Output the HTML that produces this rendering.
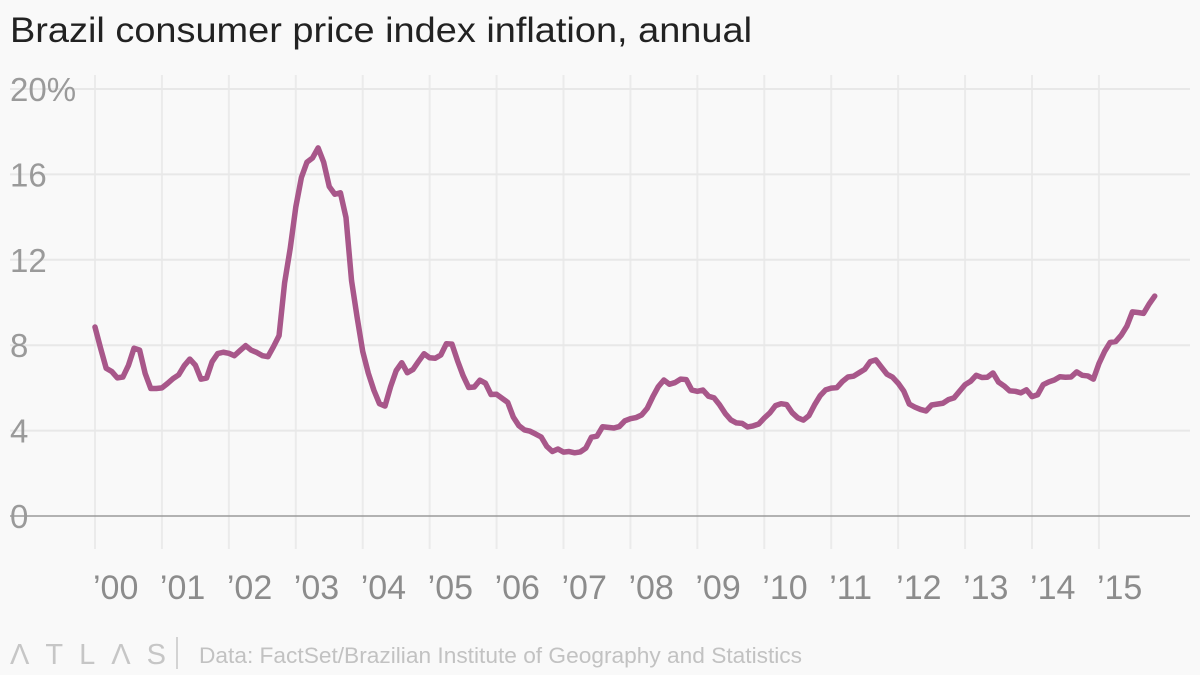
<!DOCTYPE html>
<html><head><meta charset="utf-8">
<style>
html,body{margin:0;padding:0;background:#f9f9f9;}
svg{display:block;font-family:"Liberation Sans",sans-serif;}
</style></head>
<body>
<svg id="chart" width="1200" height="675" viewBox="0 0 1200 675">
<rect width="1200" height="675" fill="#f9f9f9"/>
<text x="10" y="42" font-size="35" fill="#222" textLength="742" lengthAdjust="spacingAndGlyphs">Brazil consumer price index inflation, annual</text>
<g id="grid"></g>
<g id="yticks"></g>
<g id="xticks"></g>
<path id="line" fill="none" stroke="#a8578a" stroke-width="5.5" stroke-linejoin="round" stroke-linecap="round"/>
<g>
<text x="10" y="664" font-size="29" fill="#c6c6c6" letter-spacing="16">ΛTLΛS</text>
<line x1="177" y1="637" x2="177" y2="669" stroke="#c6c6c6" stroke-width="1.5"/>
<text x="199" y="663" font-size="22" fill="#c2c2c2" textLength="603" lengthAdjust="spacingAndGlyphs">Data: FactSet/Brazilian Institute of Geography and Statistics</text>
</g>
</svg>
<script>
const startYear = 2000;
const values = [
8.85,7.86,6.92,6.77,6.47,6.51,7.06,7.86,7.77,6.67,5.97,5.97,
6.00,6.21,6.44,6.61,7.04,7.35,7.06,6.41,6.46,7.23,7.61,7.67,
7.62,7.51,7.75,7.98,7.77,7.66,7.51,7.46,7.93,8.45,10.93,12.53,
14.47,15.85,16.57,16.77,17.24,16.57,15.43,15.07,15.14,13.98,11.02,9.30,
7.71,6.69,5.89,5.26,5.15,6.06,6.81,7.18,6.71,6.86,7.24,7.60,
7.41,7.39,7.54,8.07,8.05,7.27,6.57,6.02,6.04,6.36,6.22,5.69,
5.70,5.51,5.32,4.63,4.23,4.03,3.97,3.84,3.70,3.26,3.02,3.14,
2.99,3.02,2.96,3.00,3.18,3.69,3.74,4.18,4.15,4.12,4.19,4.46,
4.56,4.61,4.73,5.04,5.58,6.06,6.37,6.17,6.25,6.41,6.39,5.90,
5.84,5.90,5.61,5.53,5.20,4.80,4.50,4.36,4.34,4.17,4.22,4.31,
4.59,4.83,5.17,5.26,5.22,4.84,4.60,4.49,4.70,5.20,5.63,5.91,
5.99,6.01,6.30,6.51,6.55,6.71,6.87,7.23,7.31,6.97,6.64,6.50,
6.22,5.85,5.24,5.10,4.99,4.92,5.20,5.24,5.28,5.45,5.53,5.84,
6.15,6.31,6.59,6.49,6.50,6.70,6.27,6.09,5.86,5.84,5.77,5.91,
5.59,5.68,6.15,6.28,6.37,6.52,6.50,6.51,6.75,6.59,6.56,6.41,
7.14,7.70,8.13,8.17,8.47,8.89,9.56,9.53,9.49,9.93,10.3
];
const yTicks = [0,4,8,12,16,20];
const yTickLabels = ["0","4","8","12","16","20%"];
const xTickYears = [2000,2001,2002,2003,2004,2005,2006,2007,2008,2009,2010,2011,2012,2013,2014,2015];
const xTickLabels = ["’00","’01","’02","’03","’04","’05","’06","’07","’08","’09","’10","’11","’12","’13","’14","’15"];

const NS = "http://www.w3.org/2000/svg";
const x0 = 95, pxPerYear = 66.93;
const y0 = 516, pxPerUnit = 21.35;
function xScale(monthIndex){ return x0 + monthIndex * pxPerYear / 12; }
function xYear(year){ return x0 + (year - startYear) * pxPerYear; }
function yScale(v){ return y0 - v * pxPerUnit; }

const grid = document.getElementById('grid');
const yg = document.getElementById('yticks');
const xg = document.getElementById('xticks');

yTicks.forEach((t,i)=>{
  const l = document.createElementNS(NS,'line');
  l.setAttribute('x1',10); l.setAttribute('x2',1190);
  l.setAttribute('y1',yScale(t)); l.setAttribute('y2',yScale(t));
  l.setAttribute('stroke', t===0 ? '#9a9a9a' : '#e8e8e8');
  l.setAttribute('stroke-width', t===0 ? 1.5 : 2);
  
  
  grid.appendChild(l);
  const tx = document.createElementNS(NS,'text');
  tx.setAttribute('x',10); tx.setAttribute('y',yScale(t)+12);
  tx.setAttribute('font-size',33); tx.setAttribute('fill','#9a9a9a');
  tx.textContent = yTickLabels[i];
  
  
  yg.appendChild(tx);
});

xTickYears.forEach((yr,i)=>{
  const x = xYear(yr);
  const l = document.createElementNS(NS,'line');
  l.setAttribute('x1',x); l.setAttribute('x2',x);
  l.setAttribute('y1',75); l.setAttribute('y2',549);
  l.setAttribute('stroke','#ebebeb'); l.setAttribute('stroke-width',2);
  
  
  grid.insertBefore(l, grid.firstChild);
  const tx = document.createElementNS(NS,'text');
  tx.setAttribute('x',x-2); tx.setAttribute('y',599);
  tx.setAttribute('font-size',34); tx.setAttribute('fill','#8c8c8c');
  tx.textContent = xTickLabels[i];
  
  
  xg.appendChild(tx);
});

let d = '';
values.forEach((v,i)=>{ d += (i?'L':'M') + xScale(i).toFixed(2) + ',' + yScale(v).toFixed(2); });
document.getElementById('line').setAttribute('d', d);
</script>
</body></html>
